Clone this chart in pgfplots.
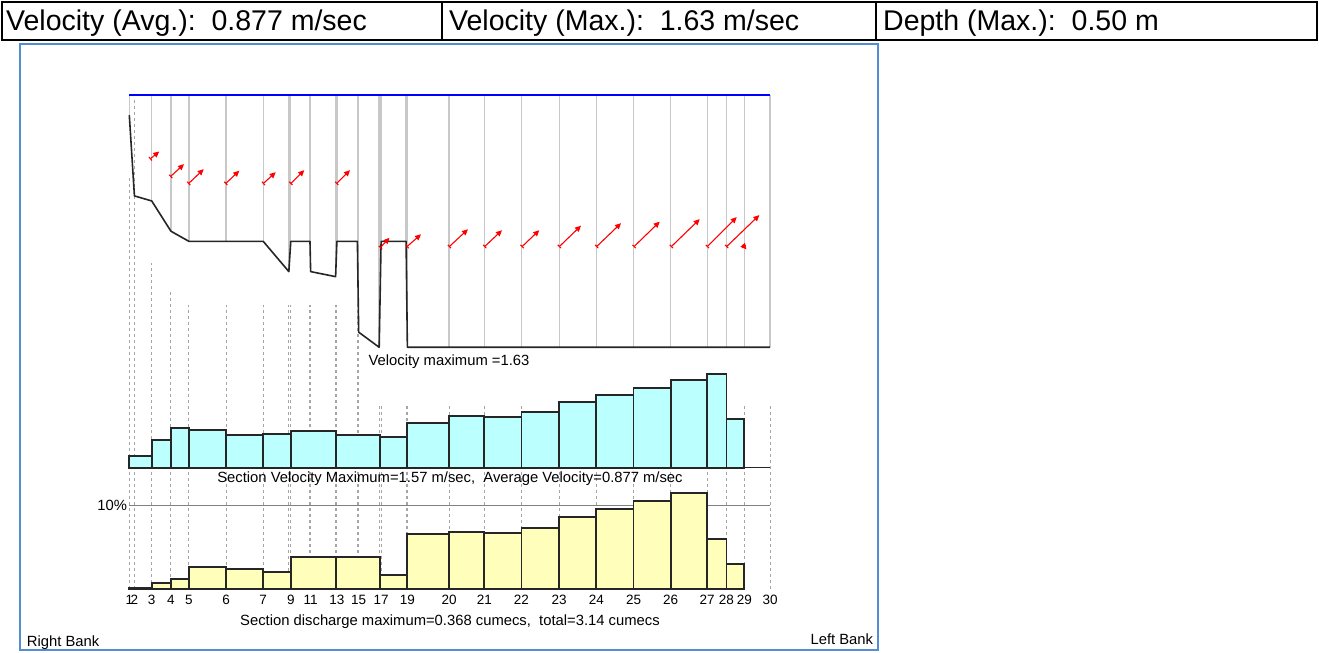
\documentclass[border=0pt]{standalone}
\usepackage{fontspec}
\setmainfont{Liberation Sans}
\usepackage{pgfplots}
\usepackage{pgfplotstable}
\pgfplotsset{compat=1.18}
\usetikzlibrary{arrows.meta}
\definecolor{framebl}{RGB}{84,141,212}
\definecolor{cyanbar}{RGB}{187,255,255}
\definecolor{yelbar}{RGB}{255,255,187}
\definecolor{stgray}{RGB}{200,200,200}
\definecolor{dashgray}{RGB}{165,165,165}

% station, distance (m), bed level below water surface (m)
\pgfplotstableread{
x d
0.00 -0.04
0.08 -0.20
0.35 -0.21
0.65 -0.27
0.93 -0.29
1.51 -0.29
2.09 -0.29
2.49 -0.35
2.52 -0.29
2.82 -0.29
2.83 -0.35
3.22 -0.36
3.24 -0.29
3.56 -0.29
3.58 -0.47
3.90 -0.50
3.93 -0.29
4.32 -0.29
4.34 -0.50
4.99 -0.50
5.54 -0.50
6.12 -0.50
6.71 -0.50
7.29 -0.50
7.87 -0.50
8.45 -0.50
9.02 -0.50
9.32 -0.50
9.60 -0.50
10.00 -0.50
}\profile

% velocity vectors: tail (x,y), head (hx,hy)
\pgfplotstableread{
x y hx hy
0.323 -0.127 0.468 -0.112
0.640 -0.162 0.854 -0.137
0.921 -0.176 1.161 -0.147
1.501 -0.176 1.717 -0.150
2.087 -0.176 2.285 -0.153
2.516 -0.176 2.731 -0.149
3.231 -0.176 3.445 -0.149
3.913 -0.303 4.061 -0.283
4.330 -0.301 4.553 -0.276
4.990 -0.301 5.286 -0.266
5.541 -0.301 5.817 -0.268
6.125 -0.301 6.399 -0.268
6.707 -0.301 7.050 -0.259
7.289 -0.301 7.675 -0.254
7.873 -0.301 8.279 -0.251
8.455 -0.301 8.903 -0.246
9.017 -0.301 9.480 -0.242
9.318 -0.301 9.833 -0.238
9.599 -0.301 9.633 -0.306
}\arrowtab

% section mean velocity (m/s), interval start
\pgfplotstableread{
x v
0.00 0.197
0.35 0.46
0.65 0.662
0.93 0.639
1.51 0.545
2.09 0.571
2.52 0.617
3.23 0.545
3.91 0.521
4.33 0.756
4.99 0.869
5.54 0.847
6.12 0.941
6.71 1.104
7.29 1.227
7.87 1.334
8.45 1.474
9.02 1.57
9.32 0.824
9.60 0
}\veltab

% section discharge (% of total)
\pgfplotstableread{
x q
0.00 0.08
0.35 0.72
0.65 1.19
0.93 2.66
1.51 2.39
2.09 2.07
2.52 3.86
3.23 3.86
3.91 1.71
4.33 6.54
4.99 6.85
5.54 6.69
6.12 7.32
6.71 8.64
7.29 9.52
7.87 10.48
8.45 11.43
9.02 6.01
9.32 3.02
9.60 0
}\qtab

% station guide lines (height above discharge baseline)
\pgfplotstableread{
x h
0.00 413
0.08 492
0.35 326
0.65 297
0.93 284
1.51 284
2.09 284
2.49 284
2.52 284
2.82 284
2.83 284
3.22 284
3.24 284
3.56 284
3.58 284
3.90 184
3.93 184
4.32 184
4.34 184
4.99 184
5.54 184
6.12 184
6.71 184
7.29 184
7.87 184
8.45 184
9.02 184
9.32 184
9.60 184
10.00 184
}\dashtab

\newcommand{\smallfont}{\fontsize{14.8bp}{17bp}\selectfont}
\newcommand{\headfont}{\fontsize{28.5bp}{32bp}\selectfont}

\begin{document}
\begin{tikzpicture}[x=1bp,y=1bp]
\path[use as bounding box] (0,0) rectangle (1319,653);

% header table
\draw[line width=2bp] (2,613) rectangle (1317,651);
\draw[line width=2bp] (442,613)--(442,651) (876,613)--(876,651);
\node[anchor=base west, font=\headfont, inner sep=0] at (6,622) {Velocity (Avg.):\ \ 0.877 m/sec};
\node[anchor=base west, font=\headfont, inner sep=0] at (449,622) {Velocity (Max.):\ \ 1.63 m/sec};
\node[anchor=base west, font=\headfont, inner sep=0] at (883,622) {Depth (Max.):\ \ 0.50 m};

% frame
\draw[framebl, line width=2bp] (20,3) rectangle (878.3,609);

% dashed station lines
\begin{axis}[at={(129.3bp,64bp)}, anchor=south west, scale only axis,
  width=640.7bp, height=494bp, xmin=0, xmax=10, ymin=0, ymax=494,
  hide axis, clip=false]
\addplot[ycomb, dashgray, dash pattern=on 3bp off 3bp, line width=1bp] table[x=x,y=h]{\dashtab};
\end{axis}

% cross-section with velocity vectors
\begin{axis}[at={(129.3bp,305.7bp)}, anchor=south west, scale only axis,
  width=640.7bp, height=252.3bp, xmin=0, xmax=10, ymin=-0.5, ymax=0,
  hide axis, clip=false]
\addplot[ycomb, stgray, line width=1.4bp, skip coords between index={1}{2}] table[x=x,y=d]{\profile};
\addplot[blue, line width=1.2bp] coordinates {(0,0) (10,0)};
\addplot[black!85, line width=1.6bp, line join=round] table[x=x,y=d]{\profile};
\addplot[red, line width=1.1bp,
  quiver={u={\thisrow{hx}-\thisrow{x}}, v={\thisrow{hy}-\thisrow{y}}},
  arrows={Bar[width=4.5bp]-Triangle[length=6bp,width=5.5bp]}] table[x=x,y=y]{\arrowtab};
\end{axis}

% section velocity bars
\begin{axis}[at={(129.3bp,185.3bp)}, anchor=south west, scale only axis,
  width=640.7bp, height=93.4bp, xmin=0, xmax=10, ymin=0, ymax=1.57,
  hide axis, clip=false]
\addplot[ybar interval, fill=cyanbar, draw=black!85, line width=1.8bp] table[x=x,y=v]{\veltab};
\addplot[black!85, line width=1.4bp] coordinates {(0,0) (10,0)};
\end{axis}

% section discharge bars
\begin{axis}[at={(129.3bp,64bp)}, anchor=south west, scale only axis,
  width=640.7bp, height=83.7bp, xmin=0, xmax=10, ymin=0, ymax=10,
  axis x line*=bottom, axis y line=none,
  x axis line style={draw=none}, xtick style={draw=none},
  xtick={0,0.08,0.35,0.65,0.93,1.51,2.09,2.52,2.83,3.24,3.58,3.93,4.34,4.99,5.54,6.12,6.71,7.29,7.87,8.45,9.02,9.32,9.60,10},
  xticklabels={1,2,3,4,5,6,7,9,11,13,15,17,19,20,21,22,23,24,25,26,27,28,29,30},
  xticklabel style={font=\fontsize{13.5bp}{15bp}\selectfont, inner sep=0pt, yshift=-6bp},
  clip=false]
\addplot[gray, line width=1bp] coordinates {(0,10) (10,10)};
\addplot[ybar interval, fill=yelbar, draw=black!85, line width=1.8bp] table[x=x,y=q]{\qtab};
\node[anchor=east, font=\smallfont, inner sep=2bp] at (axis cs:0,10) {10\%};
\end{axis}

% captions
\node[font=\smallfont, inner sep=0] at (449,291) {Velocity maximum =1.63};
\node[font=\smallfont, inner sep=0] at (450,174.5) {Section Velocity Maximum=1.57 m/sec,\ \ Average Velocity=0.877 m/sec};
\node[font=\smallfont, inner sep=0] at (450,31.3) {Section discharge maximum=0.368 cumecs,\ \ total=3.14 cumecs};
\node[font=\smallfont, anchor=base west, inner sep=0] at (26.7,6.5) {Right Bank};
\node[font=\smallfont, anchor=base east, inner sep=0] at (873.3,8) {Left Bank};
\end{tikzpicture}
\end{document}
